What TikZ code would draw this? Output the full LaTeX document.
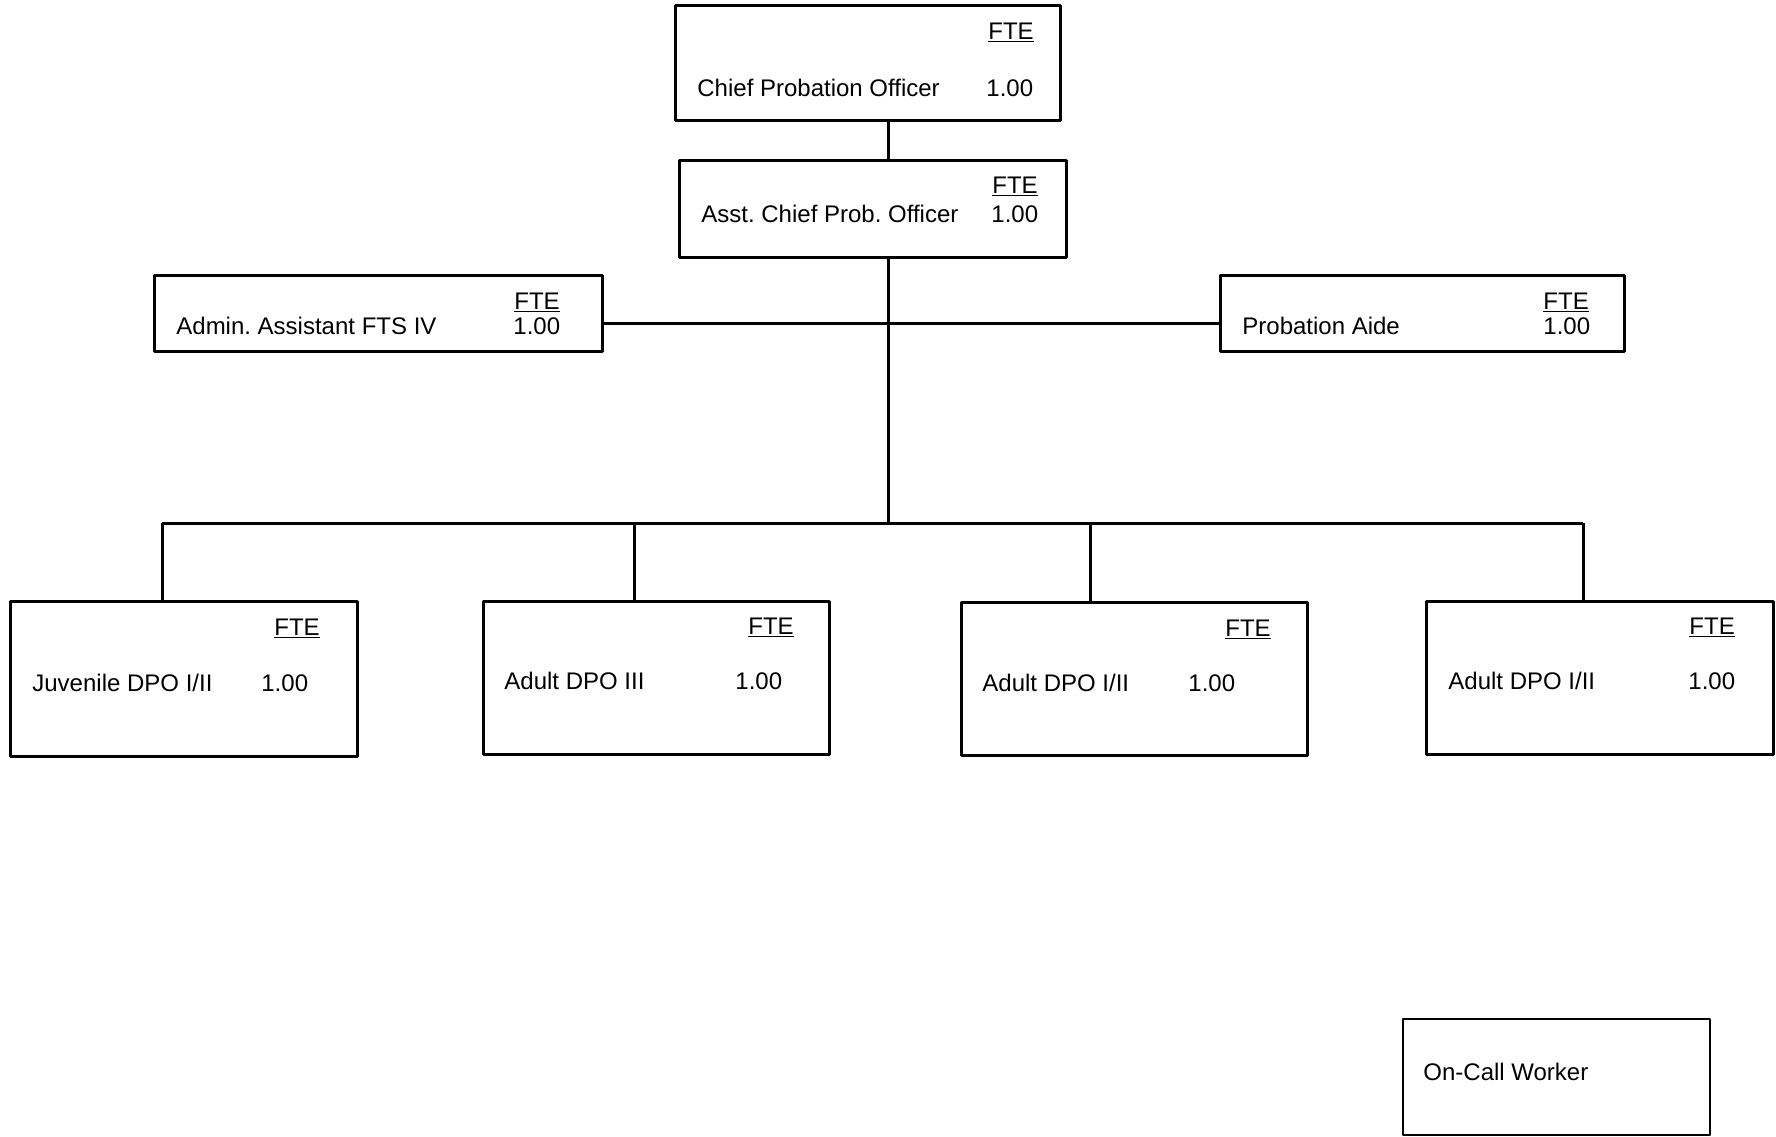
\documentclass[tikz,border=0pt]{standalone}
\usepackage{fontspec}
\setmainfont{Liberation Sans}
\frenchspacing
\tikzset{
    post/.style={draw, line width=1.5pt, rectangle, anchor=north west, inner sep=0pt, outer sep=0pt},
    lbl/.style={anchor=base west, inner sep=0pt, font=\fontsize{12}{14}\selectfont},
    link/.style={line width=1.5pt}
}

\begin{document}
\begin{tikzpicture}[x=0.5pt, y=-0.5pt, line join = round]
    \useasboundingbox (0,0) rectangle (1776,1136);
    % boxes
    \node[post, minimum width=192.5pt, minimum height=57.5pt] (chief) at (675,5) {};
    \node[post, minimum width=193.5pt, minimum height=48.5pt] (asst) at (679,160) {};
    \node[post, minimum width=224pt, minimum height=38pt] (admin) at (154,275) {};
    \node[post, minimum width=202pt, minimum height=38pt] (aide) at (1220,275) {};
    \node[post, minimum width=173.5pt, minimum height=77.5pt] (juv) at (10,601) {};
    \node[post, minimum width=173pt, minimum height=76.5pt] (adultA) at (483,601) {};
    \node[post, minimum width=173pt, minimum height=76.5pt] (adultB) at (961,602) {};
    \node[post, minimum width=173.5pt, minimum height=76.5pt] (adultC) at (1426,601) {};
    \node[post, line width=1pt, minimum width=153.5pt, minimum height=58pt] (oncall) at (1403,1019) {};

    % texts
    \foreach \x/\y/\t [count=\k] in {
        988/39/\underline{FTE}, 697/96/Chief Probation Officer, 986/96/1.00,
        992/193/\underline{FTE}, 701/222/Asst. Chief Prob. Officer, 991/222/1.00,
        514/309/\underline{FTE}, 176/334/Admin. Assistant FTS IV, 513/334/1.00,
        1543/309/\underline{FTE}, 1242/334/Probation Aide, 1543/334/1.00,
        274/635/\underline{FTE}, 32/691/{Juvenile DPO I/II}, 261/691/1.00,
        748/634/\underline{FTE}, 504/689/Adult DPO III, 735/689/1.00,
        1225/636/\underline{FTE}, 982/691/{Adult DPO I/II}, 1188/691/1.00,
        1689/634/\underline{FTE}, 1448/689/{Adult DPO I/II}, 1688/689/1.00,
        1423/1080/On-Call Worker}{
        \node[lbl] (t\k) at (\x,\y) {\t};
    }

    % connectors
    \coordinate (mid) at (888,323);
    \coordinate (hub) at (888,523);
    \coordinate (d1) at (162,523);
    \coordinate (d2) at (634,523);
    \coordinate (d3) at (1090,523);
    \coordinate (d4) at (1583,523);
    \draw[link] (chief.south -| hub) -- (asst.north -| hub);
    \draw[link] (asst.south -| hub) -- (hub);
    \draw[link] (admin.east |- mid) -- (aide.west |- mid);
    \draw[link] (d1) -- (d4);
    \draw[link] (d1) -- (d1 |- juv.north);
    \draw[link] (d2) -- (d2 |- adultA.north);
    \draw[link] (d3) -- (d3 |- adultB.north);
    \draw[link] (d4) -- (d4 |- adultC.north);
\end{tikzpicture}
\end{document}
